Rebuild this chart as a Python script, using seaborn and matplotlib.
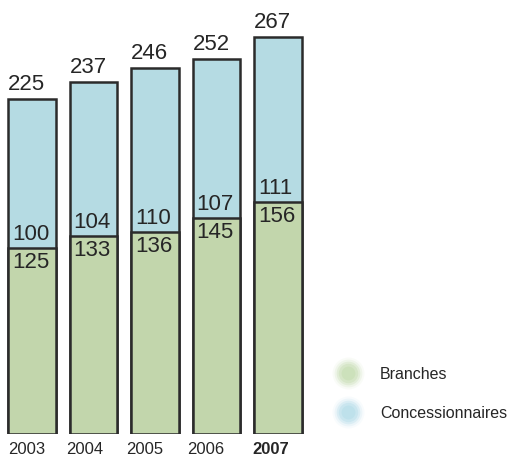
import matplotlib
matplotlib.use("Agg")
import matplotlib.pyplot as plt
from matplotlib.lines import Line2D
from matplotlib.legend_handler import HandlerTuple
from matplotlib.transforms import offset_copy
import seaborn as sns

years = ["2003", "2004", "2005", "2006", "2007"]
branches = [125, 133, 136, 145, 156]
concessionnaires = [100, 104, 110, 107, 111]
totals = [225, 237, 246, 252, 267]

GREEN = "#c2d6ac"
BLUE = "#b5dbe3"
EDGE = "#2b2b2b"
INK = "#262626"

sns.set_theme(style="white")
plt.rcParams["font.family"] = ["Liberation Sans", "DejaVu Sans"]

W, H = 508, 458
fig = plt.figure(figsize=(W / 100, H / 100), dpi=100, facecolor="white")
ax = fig.add_axes([0, 24 / H, 1, (H - 24) / H])

# Stacked look: the totals behind, the lower segment drawn over them
sns.barplot(x=years, y=totals, color=BLUE, saturation=1, width=0.78,
            edgecolor=EDGE, linewidth=1.8, ax=ax)
sns.barplot(x=years, y=branches, color=GREEN, saturation=1, width=0.78,
            edgecolor=EDGE, linewidth=1.8, ax=ax)

px_per_unit = 61.5
ax.set_xlim(-32 / px_per_unit, (W - 32) / px_per_unit)
ax.set_ylim(0, 434 / 1.487)
sns.despine(ax=ax, left=True, bottom=True, top=True, right=True)
ax.set_yticks([])
ax.set_xlabel("")
ax.set_ylabel("")

def px(v):
    return v * 72 / 100

LABEL_SIZE = 16
for i in range(len(years)):
    ax.annotate(str(totals[i]), (i, totals[i]), xytext=(px(-24), px(4)),
                textcoords="offset points", ha="left", va="bottom",
                fontsize=LABEL_SIZE, color=INK)
    ax.annotate(str(concessionnaires[i]), (i, branches[i]), xytext=(px(-20), px(3)),
                textcoords="offset points", ha="left", va="bottom",
                fontsize=LABEL_SIZE, color=INK)
    ax.annotate(str(branches[i]), (i, branches[i]), xytext=(px(-20), px(-4)),
                textcoords="offset points", ha="left", va="top",
                fontsize=LABEL_SIZE, color=INK)

# Year labels sit slightly left of their bars
shifts = [-5.5, -8.5, -10, -11, -7]
ax.set_xticks(range(len(years)))
ax.set_xticklabels(years, fontsize=12, color=INK)
ax.tick_params(axis="x", length=0, pad=6)
for label, dx, year in zip(ax.get_xticklabels(), shifts, years):
    label.set_transform(offset_copy(label.get_transform(), fig=fig, x=dx, y=0, units="dots"))
    if year == "2007":
        label.set_fontweight("bold")

def soft_dot(color):
    # Concentric translucent discs give the swatch a soft edge
    return tuple(Line2D([], [], linestyle="none", marker="o", markersize=s,
                        markerfacecolor=color, markeredgecolor="none", alpha=a)
                 for s, a in [(23, 0.08), (20, 0.15), (17, 0.25), (14, 0.3), (10, 0.35)])

ax.legend([soft_dot("#bcd8a4"), soft_dot("#a8d8e6")], ["Branches", "Concessionnaires"],
          handler_map={tuple: HandlerTuple(ndivide=1, pad=0)},
          loc="lower left", bbox_to_anchor=(332 / W, 13 / (H - 24)),
          frameon=False, fontsize=11.5, labelcolor=INK,
          labelspacing=1.5, handlelength=2.0, handletextpad=1.0,
          borderaxespad=0, borderpad=0)

fig.savefig("out.png", dpi=100)
